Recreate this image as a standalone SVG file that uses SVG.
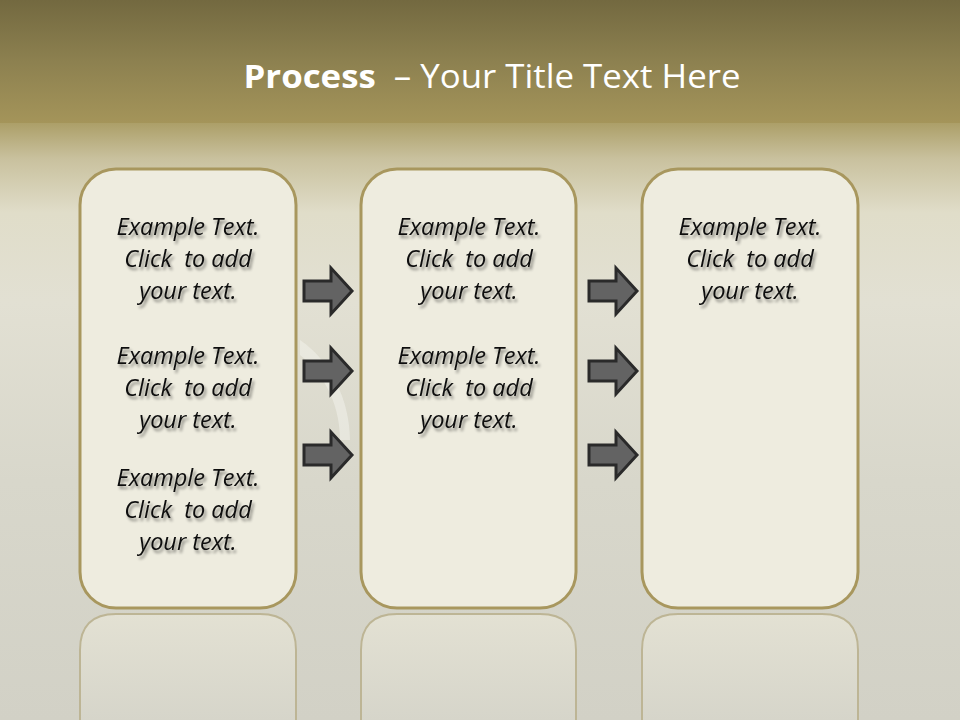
<svg xmlns="http://www.w3.org/2000/svg" width="960" height="720" viewBox="0 0 960 720">
<defs>
<linearGradient id="top" x1="0" y1="0" x2="0" y2="1">
<stop offset="0" stop-color="#736940"/>
<stop offset="0.5" stop-color="#8d8150"/>
<stop offset="1" stop-color="#a5955a"/>
</linearGradient>
<linearGradient id="mid" x1="0" y1="0" x2="0" y2="1">
<stop offset="0" stop-color="#ac9f68"/>
<stop offset="0.06" stop-color="#c9c19e"/>
<stop offset="0.15" stop-color="#e0ddc9"/>
<stop offset="0.3" stop-color="#e2e0d3"/>
<stop offset="0.6" stop-color="#d8d7cb"/>
<stop offset="1" stop-color="#d2d1c6"/>
</linearGradient>
<linearGradient id="refl" x1="0" y1="0" x2="0" y2="1">
<stop offset="0" stop-color="#e3e1d3"/>
<stop offset="1" stop-color="#d6d5ca"/>
</linearGradient>
<filter id="sh" x="-10%" y="-20%" width="130%" height="160%">
<feGaussianBlur in="SourceAlpha" stdDeviation="1.6"/>
<feOffset dx="2" dy="3" result="b"/>
<feComponentTransfer in="b" result="c"><feFuncA type="linear" slope="0.45"/></feComponentTransfer>
<feMerge><feMergeNode in="c"/><feMergeNode in="SourceGraphic"/></feMerge>
</filter>
<path id="arrow" d="M0,-10 H27 V-23 L48,0 L27,23 V10 H0 Z"/>
</defs>
<style>
.box{fill:#eeecdf;stroke:#a8975e;stroke-width:3}
.rb{fill:url(#refl);stroke:#bdb595;stroke-width:2}
.t{font-family:"Open Sans","Liberation Sans",sans-serif;font-style:italic;font-size:23.5px;fill:#111;text-anchor:middle;white-space:pre}
.ar{fill:#636363;stroke:#2a2a2a;stroke-width:3;stroke-linejoin:miter}
</style>
<rect x="0" y="0" width="960" height="125" fill="url(#top)"/>
<rect x="0" y="123" width="960" height="597" fill="url(#mid)"/>
<path d="M300,340 C330,360 350,400 350,440 L340,440 C340,400 320,370 300,355 Z" fill="#f4f4ee" opacity="0.5"/>
<text x="492" y="88" font-family="Open Sans, Liberation Sans, sans-serif" font-size="33" fill="#ffffff" text-anchor="middle" textLength="497" lengthAdjust="spacingAndGlyphs" xml:space="preserve"><tspan font-weight="bold">Process </tspan> – Your Title Text Here</text>
<g id="reflections">
<path class="rb" d="M80,720 V650 Q80,614 116,614 H260 Q296,614 296,650 V720"/>
<path class="rb" d="M361,720 V650 Q361,614 397,614 H540 Q576,614 576,650 V720"/>
<path class="rb" d="M642,720 V650 Q642,614 678,614 H822 Q858,614 858,650 V720"/>
</g>
<g id="box1">
<rect class="box" x="80" y="169" width="216" height="439" rx="36"/>
<g filter="url(#sh)" xml:space="preserve">
<text class="t" x="188" y="235">Example Text.</text>
<text class="t" x="188" y="267">Click  to add</text>
<text class="t" x="188" y="299">your text.</text>
<text class="t" x="188" y="364">Example Text.</text>
<text class="t" x="188" y="396">Click  to add</text>
<text class="t" x="188" y="428">your text.</text>
<text class="t" x="188" y="486">Example Text.</text>
<text class="t" x="188" y="518">Click  to add</text>
<text class="t" x="188" y="550">your text.</text>
</g>
</g>
<g id="box2">
<rect class="box" x="361" y="169" width="215" height="439" rx="36"/>
<g filter="url(#sh)" xml:space="preserve">
<text class="t" x="469" y="235">Example Text.</text>
<text class="t" x="469" y="267">Click  to add</text>
<text class="t" x="469" y="299">your text.</text>
<text class="t" x="469" y="364">Example Text.</text>
<text class="t" x="469" y="396">Click  to add</text>
<text class="t" x="469" y="428">your text.</text>
</g>
</g>
<g id="box3">
<rect class="box" x="642" y="169" width="216" height="439" rx="36"/>
<g filter="url(#sh)" xml:space="preserve">
<text class="t" x="750" y="235">Example Text.</text>
<text class="t" x="750" y="267">Click  to add</text>
<text class="t" x="750" y="299">your text.</text>
</g>
</g>
<g id="connectors">
<use href="#arrow" class="ar" x="304" y="291"/>
<use href="#arrow" class="ar" x="304" y="371"/>
<use href="#arrow" class="ar" x="304" y="455"/>
<use href="#arrow" class="ar" x="589" y="291"/>
<use href="#arrow" class="ar" x="589" y="371"/>
<use href="#arrow" class="ar" x="589" y="455"/>
</g>
</svg>
